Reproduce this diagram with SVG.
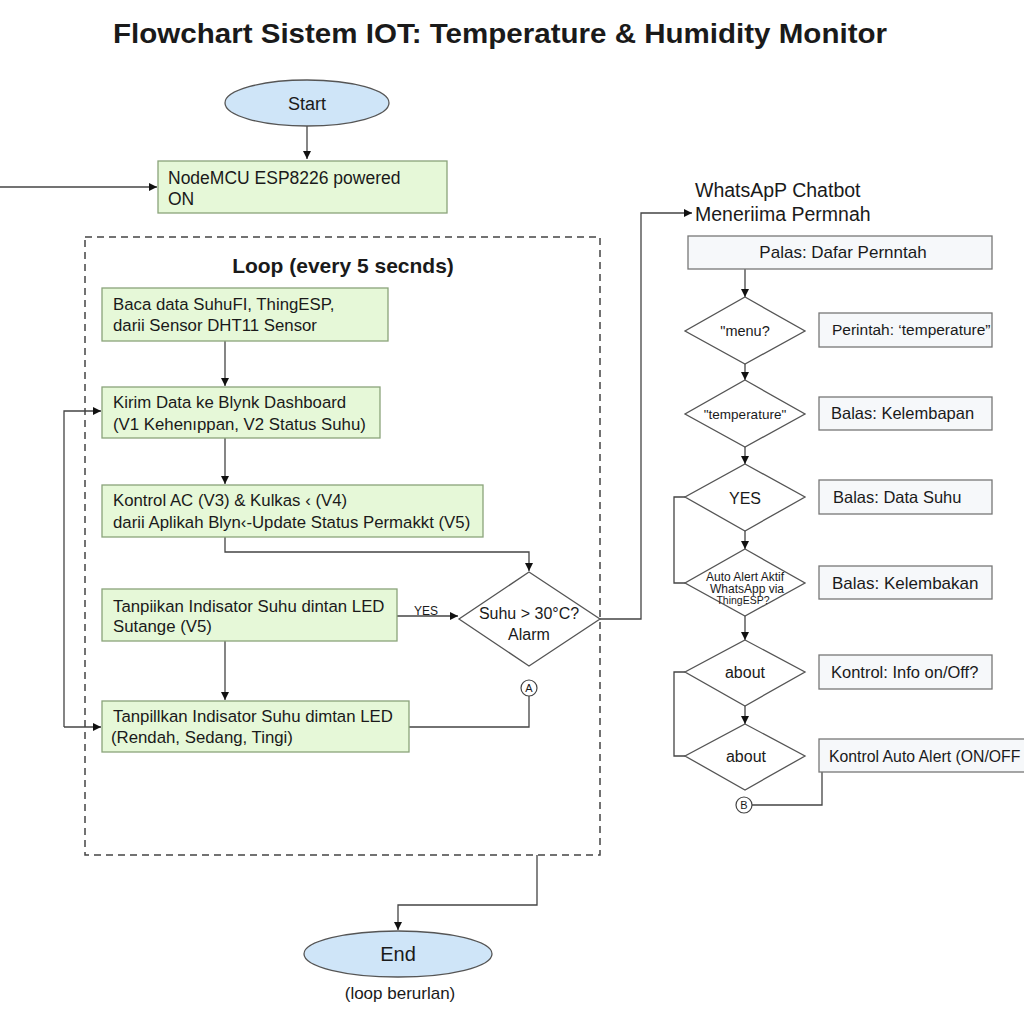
<svg xmlns="http://www.w3.org/2000/svg" width="1024" height="1024" viewBox="0 0 1024 1024">
<defs>
<marker id="ah" viewBox="0 0 10 10" refX="10" refY="5" markerWidth="8" markerHeight="8" markerUnits="userSpaceOnUse" orient="auto">
<path d="M0,0 L10,5 L0,10 z" fill="#111"/>
</marker>
<style>
text{font-family:"Liberation Sans",Arial,sans-serif;fill:#1a1a1a}
.t{font-size:16.8px}
.r{font-size:16.5px}
.g{fill:#e6f8d8;stroke:#8aa37a;stroke-width:1.3}
.w{fill:#f6f8fa;stroke:#777;stroke-width:1.3}
.d{fill:#fff;stroke:#555;stroke-width:1.3}
.o{fill:#cfe5f8;stroke:#555;stroke-width:1.3}
.c{fill:none;stroke:#444;stroke-width:1.3}
.a{marker-end:url(#ah)}
.m{text-anchor:middle}
</style>
</defs>
<rect width="1024" height="1024" fill="#fff"/>
<text x="500" y="43" class="m" font-size="27" font-weight="bold" textLength="774" lengthAdjust="spacingAndGlyphs">Flowchart Sistem IOT: Temperature &amp; Humidity Monitor</text>

<g id="loop">
<rect x="85" y="237" width="515" height="618" fill="none" stroke="#444" stroke-width="1.5" stroke-dasharray="7,5"/>
<text x="343" y="273" class="m" font-size="21" font-weight="bold">Loop (every 5 secnds)</text>
</g>

<g id="connectors">
<path class="c a" d="M307,126 V159"/>
<path class="c a" d="M0,187 H157"/>
<path class="c a" d="M225,341 V386"/>
<path class="c a" d="M225,438 V484"/>
<path class="c a" d="M225,537 V552 H529 V571"/>
<path class="c a" d="M397,616 H458"/>
<path class="c a" d="M225,641 V700"/>
<path class="c" d="M409,727 H529 V696"/>
<path class="c a" d="M64,727 V411 H101"/>
<path class="c a" d="M64,727 H101"/>
<path class="c a" d="M600,619 H641 V213 H692"/>
<path class="c a" d="M537,855 V905 H398 V930"/>
<path class="c a" d="M745,269 V297"/>
<path class="c a" d="M745,364 V380"/>
<path class="c a" d="M745,447 V464"/>
<path class="c a" d="M745,531 V549"/>
<path class="c a" d="M745,616 V640"/>
<path class="c a" d="M745,706 V724"/>
<path class="c" d="M685,497 H674 V583 H685"/>
<path class="c" d="M685,672 H674 V756 H685"/>
<path class="c" d="M752,805 H822 V772"/>
<text x="426" y="615" class="m" font-size="12">YES</text>
</g>

<g id="start">
<ellipse cx="307" cy="103" rx="82" ry="23" class="o"/>
<text x="307" y="110" class="m" font-size="18">Start</text>
</g>

<g id="power">
<rect x="158" y="161" width="289" height="52" class="g"/>
<text x="168" y="184" font-size="17.5">NodeMCU ESP8226 powered</text>
<text x="168" y="205" font-size="17.5">ON</text>
</g>

<g id="baca">
<rect x="102" y="288" width="286" height="53" class="g"/>
<text x="113" y="310" class="t">Baca data SuhuFI, ThingESP,</text>
<text x="113" y="331" class="t">darii Sensor DHT11 Sensor</text>
</g>

<g id="kirim">
<rect x="102" y="387" width="278" height="51" class="g"/>
<text x="113" y="408" class="t">Kirim Data ke Blynk Dashboard</text>
<text x="113" y="430" class="t">(V1 Kehenıppan, V2 Status Suhu)</text>
</g>

<g id="kontrol">
<rect x="102" y="485" width="381" height="52" class="g"/>
<text x="113" y="506" class="t">Kontrol AC (V3) &amp; Kulkas ‹ (V4)</text>
<text x="113" y="528" class="t">darii Aplikah Blyn‹-Update Status Permakkt (V5)</text>
</g>

<g id="tampil1">
<rect x="102" y="589" width="295" height="52" class="g"/>
<text x="113" y="612" class="t">Tanpiikan Indisator Suhu dintan LED</text>
<text x="113" y="632" class="t">Sutange (V5)</text>
</g>

<g id="suhu">
<polygon points="529,572 600,619 529,666 459,619" class="d"/>
<text x="529" y="619" class="m" font-size="16">Suhu &gt; 30°C?</text>
<text x="529" y="640" class="m" font-size="16">Alarm</text>
</g>

<g id="tampil2">
<rect x="102" y="701" width="307" height="51" class="g"/>
<text x="113" y="722" class="t">Tanpillkan Indisator Suhu dimtan LED</text>
<text x="111" y="743" class="t">(Rendah, Sedang, Tingi)</text>
</g>

<g id="connA">
<circle cx="529" cy="688" r="8" fill="#fff" stroke="#444" stroke-width="1.2"/>
<text x="529" y="692" class="m" font-size="11">A</text>
</g>

<g id="end">
<ellipse cx="398" cy="954" rx="94" ry="23" class="o"/>
<text x="398" y="961" class="m" font-size="20">End</text>
<text x="400" y="999" class="m" font-size="17">(loop berurlan)</text>
</g>

<g id="chatbot">
<text x="695" y="197" font-size="19.5">WhatsApP Chatbot</text>
<text x="695" y="221" font-size="19.5">Meneriima Permnah</text>
</g>

<g id="palas">
<rect x="688" y="236" width="304" height="33" class="w"/>
<text x="843" y="258" class="m" font-size="17">Palas: Dafar Pernntah</text>
</g>

<g id="dmenu">
<polygon points="745,297 805,331 745,364 685,331" class="d"/>
<text x="745" y="336" class="m" font-size="14.5">"menu?</text>
</g>
<g id="perintah">
<rect x="819" y="313" width="173" height="34" class="w"/>
<text x="832" y="335" font-size="15.5">Perintah: ‘temperature”</text>
</g>

<g id="dtemp">
<polygon points="745,380 805,414 745,447 685,414" class="d"/>
<text x="745" y="419" class="m" font-size="13.5">"temperature"</text>
</g>
<g id="kelembapan">
<rect x="819" y="397" width="173" height="33" class="w"/>
<text x="831" y="419" class="r">Balas: Kelembapan</text>
</g>

<g id="dyes">
<polygon points="745,464 805,497 745,531 685,497" class="d"/>
<text x="745" y="504" class="m" font-size="16">YES</text>
</g>
<g id="datasuhu">
<rect x="819" y="480" width="173" height="34" class="w"/>
<text x="833" y="503" class="r">Balas: Data Suhu</text>
</g>

<g id="dauto">
<polygon points="745,549 805,583 745,616 685,583" class="d"/>
<text x="745" y="581" class="m" font-size="12">Auto Alert Aktif</text>
<text x="747" y="593" class="m" font-size="12">WhatsApp via</text>
<text x="743" y="604" class="m" font-size="10.5">ThingESP?</text>
</g>
<g id="kelembakan">
<rect x="819" y="566" width="173" height="33" class="w"/>
<text x="832" y="589" font-size="17">Balas: Kelembakan</text>
</g>

<g id="dabout1">
<polygon points="745,640 805,672 745,706 685,672" class="d"/>
<text x="745" y="678" class="m" font-size="16">about</text>
</g>
<g id="info">
<rect x="819" y="655" width="173" height="34" class="w"/>
<text x="831" y="678" class="r">Kontrol: Info on/Off?</text>
</g>

<g id="dabout2">
<polygon points="745,724 805,756 745,790 685,756" class="d"/>
<text x="746" y="762" class="m" font-size="16">about</text>
</g>
<g id="autoalert">
<rect x="819" y="739" width="215" height="33" class="w"/>
<text x="829" y="762" font-size="15.8">Kontrol Auto Alert (ON/OFF</text>
</g>

<g id="connB">
<circle cx="744" cy="805" r="8" fill="#fff" stroke="#444" stroke-width="1.2"/>
<text x="744" y="809" class="m" font-size="11">B</text>
</g>
</svg>
